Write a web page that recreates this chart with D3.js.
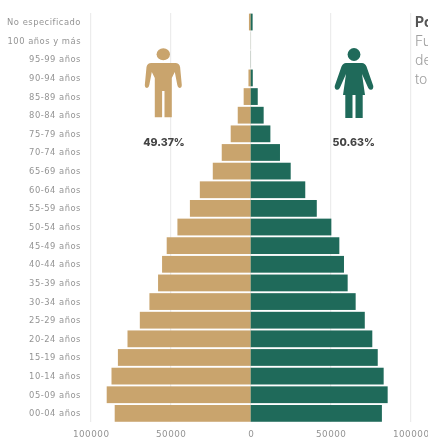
<!DOCTYPE html>
<html><head><meta charset="utf-8">
<script src="https://cdnjs.cloudflare.com/ajax/libs/d3/7.8.5/d3.min.js"></script>
<style>
html,body{margin:0;padding:0;background:#fff;overflow:hidden;width:428px;height:438px}
svg{display:block;filter:blur(0.6px);font-family:"Inter","Open Sans",sans-serif}
.domain{display:none}
</style></head><body>
<svg id="c" width="428" height="438"></svg>
<script>
const categories=["No especificado","100 años y más","95-99 años","90-94 años","85-89 años","80-84 años","75-79 años","70-74 años","65-69 años","60-64 años","55-59 años","50-54 años","45-49 años","40-44 años","35-39 años","30-34 años","25-29 años","20-24 años","15-19 años","10-14 años","05-09 años","00-04 años"];
const hombres=[1100,40,60,1400,4400,8100,12500,18100,23700,31800,38000,45800,52500,55400,57900,63300,69300,77000,83000,87000,90000,85000];
const mujeres=[1200,40,80,1300,4400,8100,12300,18300,25000,34100,41300,50400,55400,58300,60600,65600,71300,76000,79400,83100,85600,82000];
const tickValues=[-100000,-50000,0,50000,100000];
const pctHombres="49.37%", pctMujeres="50.63%";
const sideText=[["Po",true],["Fu",false],["de",false],["to",false]];
const COL_M="#c9a46d", COL_F="#1f6a5a";

const svg=d3.select("#c");
const x=d3.scaleLinear().domain([-100000,100000]).range([90.7,410.7]);
const y=d3.scaleBand().domain(categories).range([12.7,422.7]).paddingInner(0.1).paddingOuter(0.05);

svg.append("g").selectAll("line").data(tickValues).join("line")
  .attr("x1",d=>x(d)).attr("x2",d=>x(d)).attr("y1",13).attr("y2",422)
  .attr("stroke","#e8e8e8").attr("stroke-width",1);

svg.append("g").selectAll("rect").data(categories).join("rect")
  .attr("x",(d,i)=>x(-hombres[i])).attr("y",d=>y(d))
  .attr("width",(d,i)=>x(0)-x(-hombres[i])).attr("height",y.bandwidth())
  .attr("fill",COL_M);
svg.append("g").selectAll("rect").data(categories).join("rect")
  .attr("x",x(0)).attr("y",d=>y(d))
  .attr("width",(d,i)=>x(mujeres[i])-x(0)).attr("height",y.bandwidth())
  .attr("fill",COL_F);

svg.append("g").selectAll("text").data(categories).join("text")
  .attr("x",81).attr("y",d=>y(d)+y.bandwidth()/2).attr("dy","0.35em")
  .attr("text-anchor","end").attr("font-family","DejaVu Sans").attr("font-size",8.4)
  .attr("letter-spacing",0.5).attr("fill","#949494").text(d=>d);

const ax=svg.append("g").attr("transform","translate(0,423)")
  .call(d3.axisBottom(x).tickValues(tickValues).tickSize(0).tickPadding(8).tickFormat(d=>Math.abs(d)));
ax.selectAll("text").attr("font-size",8.8).attr("letter-spacing",0.5).attr("fill","#949494").attr("font-family","DejaVu Sans");

const man=svg.append("g").attr("fill",COL_M).attr("transform","translate(163.3,0)");
man.append("ellipse").attr("cx",0).attr("cy",54.2).attr("rx",6.7).attr("ry",6);
man.append("path").attr("d","M-12,63 H12 Q16,63 16.8,67 L18.5,85 Q18.5,88 16.2,88 Q14.5,88 14,85 L11.5,72 L8.5,78 V117.3 H1.2 V91 H-1.2 V117.3 H-8.5 V78 L-11.5,72 L-14,85 Q-14.5,88 -16.2,88 Q-18.5,88 -18.5,85 L-16.8,67 Q-16,63 -12,63 Z");
const woman=svg.append("g").attr("fill",COL_F).attr("transform","translate(354,0)");
woman.append("circle").attr("cx",0).attr("cy",54.5).attr("r",6.4);
woman.append("path").attr("d","M-8,63 H8 Q11,63 12.5,66.5 L19.3,86 Q19.5,89.5 17,89.8 Q15,90 14,87.5 L8,74 L11,95 H8.7 V118 H1.5 V95 H-1.5 V118 H-8.7 V95 H-11 L-8,74 L-14,87.5 Q-15,90 -17,89.8 Q-19.5,89.5 -19.3,86 L-12.5,66.5 Q-11,63 -8,63 Z");

svg.append("text").attr("x",164).attr("y",145.5).attr("text-anchor","middle")
  .attr("font-size",10.6).attr("font-weight",800).attr("fill","#444").text(pctHombres);
svg.append("text").attr("x",353.7).attr("y",145.5).attr("text-anchor","middle")
  .attr("font-size",10.6).attr("font-weight",800).attr("fill","#444").text(pctMujeres);

svg.append("g").selectAll("text").data(sideText).join("text")
  .attr("x",415).attr("y",(d,i)=>26.5+i*19.3).attr("font-size",14)
  .attr("font-weight",d=>d[1]?700:300).attr("fill",d=>d[1]?"#555":"#a0a0a0").text(d=>d[0]);
</script>
</body></html>
